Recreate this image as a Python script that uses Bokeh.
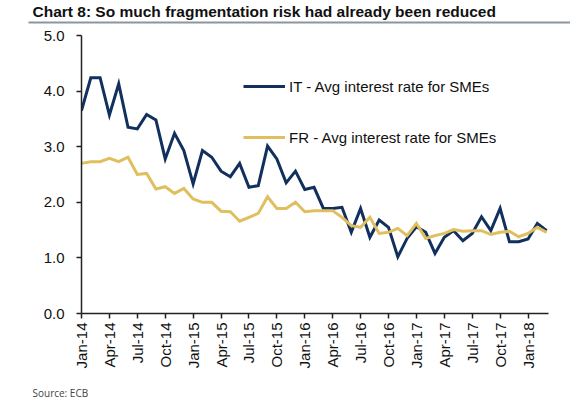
from bokeh.plotting import figure
from bokeh.layouts import column
from bokeh.models import (ColumnDataSource, FixedTicker, Legend, LegendItem, Label,
                          BoxAnnotation, Range1d, NumeralTickFormatter)
from bokeh.embed import file_html
from bokeh.resources import INLINE
import math

# ---- data ----
months = ["Jan-14", "Feb-14", "Mar-14", "Apr-14", "May-14", "Jun-14", "Jul-14", "Aug-14", "Sep-14",
          "Oct-14", "Nov-14", "Dec-14", "Jan-15", "Feb-15", "Mar-15", "Apr-15", "May-15", "Jun-15",
          "Jul-15", "Aug-15", "Sep-15", "Oct-15", "Nov-15", "Dec-15", "Jan-16", "Feb-16", "Mar-16",
          "Apr-16", "May-16", "Jun-16", "Jul-16", "Aug-16", "Sep-16", "Oct-16", "Nov-16", "Dec-16",
          "Jan-17", "Feb-17", "Mar-17", "Apr-17", "May-17", "Jun-17", "Jul-17", "Aug-17", "Sep-17",
          "Oct-17", "Nov-17", "Dec-17", "Jan-18", "Feb-18", "Mar-18"]

it_rate = [3.65, 4.24, 4.24, 3.57, 4.13, 3.35, 3.32, 3.58, 3.48, 2.78, 3.24, 2.93,
           2.33, 2.93, 2.81, 2.56, 2.46, 2.70, 2.27, 2.30, 3.01, 2.78, 2.35, 2.56,
           2.23, 2.27, 1.89, 1.89, 1.91, 1.46, 1.89, 1.37, 1.68, 1.55, 1.02, 1.35,
           1.56, 1.46, 1.08, 1.37, 1.49, 1.31, 1.44, 1.74, 1.49, 1.89, 1.29, 1.29,
           1.34, 1.62, 1.49]

fr_rate = [2.70, 2.73, 2.73, 2.79, 2.73, 2.81, 2.50, 2.52, 2.24, 2.28, 2.16, 2.25,
           2.06, 2.00, 2.00, 1.84, 1.83, 1.66, 1.73, 1.80, 2.10, 1.89, 1.89, 2.00,
           1.83, 1.85, 1.85, 1.85, 1.73, 1.58, 1.55, 1.73, 1.44, 1.46, 1.53, 1.40,
           1.62, 1.35, 1.40, 1.44, 1.51, 1.48, 1.49, 1.49, 1.42, 1.46, 1.48, 1.38,
           1.44, 1.55, 1.46]

tick_labels = ["Jan-14", "Apr-14", "Jul-14", "Oct-14", "Jan-15", "Apr-15", "Jul-15", "Oct-15",
               "Jan-16", "Apr-16", "Jul-16", "Oct-16", "Jan-17", "Apr-17", "Jul-17", "Oct-17",
               "Jan-18"]

series_names = ["IT - Avg interest rate for SMEs", "FR - Avg interest rate for SMEs"]
title_text = "Chart 8: So much fragmentation risk had already been reduced"
source_text = "Source:  ECB"

# ---- build ----
x = list(range(len(months)))
src = ColumnDataSource(dict(x=x, it=it_rate, fr=fr_rate, month=months))

IT_COL = "#11305e"
FR_COL = "#dfbf5f"
FONT = "Liberation Sans"
W = 570


def blank(height):
    f = figure(width=W, height=height, output_backend="svg", toolbar_location=None,
               x_range=Range1d(0, W), y_range=Range1d(0, height),
               min_border=0, min_border_left=0, min_border_right=0,
               min_border_top=0, min_border_bottom=0)
    f.axis.visible = False
    f.grid.visible = False
    f.outline_line_color = None
    f.background_fill_color = "white"
    f.border_fill_color = "white"
    f.frame_align = False
    return f


# header: title + grey rule
HEAD_H = 26
head = blank(HEAD_H)
head.add_layout(Label(x=32, y=HEAD_H - 2, x_units="screen", y_units="screen", text=title_text,
                      text_font=FONT, text_font_style="bold",
                      text_font_size="15.5px", text_color="#111111", text_baseline="top"))
head.add_layout(BoxAnnotation(left=28, right=W, bottom=3, top=5, left_units="screen",
                              right_units="screen", top_units="screen", bottom_units="screen",
                              fill_color="#8c96a0", fill_alpha=1, line_alpha=0))

# main chart
p = figure(width=W, height=372 - HEAD_H, output_backend="svg", toolbar_location=None,
           x_range=Range1d(0, 50.2), y_range=Range1d(0, 5.0),
           min_border_left=81, min_border_right=22, min_border_top=35 - HEAD_H,
           min_border_bottom=59)
p.frame_align = False
p.outline_line_color = None
p.xgrid.visible = False
p.ygrid.visible = False
p.background_fill_color = "white"
p.border_fill_color = "white"

r_it = p.line("x", "it", source=src, line_color=IT_COL, line_width=3, line_join="miter")
r_fr = p.line("x", "fr", source=src, line_color=FR_COL, line_width=3, line_join="miter")

tick_pos = [months.index(t) for t in tick_labels]
p.xaxis.ticker = FixedTicker(ticks=tick_pos)
p.xaxis.major_label_overrides = {pos: lab for pos, lab in zip(tick_pos, tick_labels)}
p.xaxis.major_label_orientation = math.pi / 2
p.yaxis.ticker = FixedTicker(ticks=[0, 1, 2, 3, 4, 5])
p.yaxis.formatter = NumeralTickFormatter(format="0.0")
for ax in (p.xaxis, p.yaxis):
    ax.axis_line_color = "#222222"
    ax.axis_line_width = 1.5
    ax.major_tick_line_color = "#222222"
    ax.major_tick_line_width = 1.5
    ax.major_tick_in = 0
    ax.major_tick_out = 5
    ax.minor_tick_line_color = None
    ax.major_label_text_font = FONT
    ax.major_label_text_font_size = "15px"
    ax.major_label_text_color = "#111111"
p.yaxis.major_label_standoff = 12
p.xaxis.major_label_standoff = 4

for name, rend, loc in [(series_names[0], r_it, (162, 217)), (series_names[1], r_fr, (162, 166))]:
    lg = Legend(items=[LegendItem(label=name, renderers=[rend])], location=loc,
                orientation="vertical", padding=0, margin=0, spacing=0,
                glyph_width=42, glyph_height=20, label_standoff=4,
                label_text_font=FONT, label_text_font_size="15px", label_text_color="#111111",
                border_line_alpha=0, background_fill_alpha=0)
    p.add_layout(lg, "center")

# footer: source
foot = blank(27)
foot.add_layout(Label(x=32, y=7, x_units="screen", y_units="screen", text=source_text,
                      text_font="Open Sans", text_font_size="10px", text_color="#444444",
                      text_baseline="middle"))

layout = column(head, p, foot, spacing=0)
open("out.html", "w").write(file_html(layout, INLINE))
